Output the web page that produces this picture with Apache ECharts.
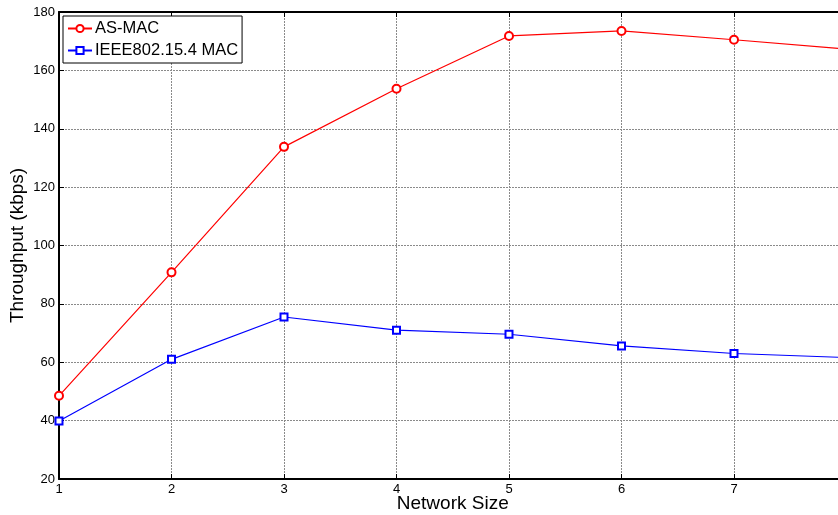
<!DOCTYPE html>
<html><head><meta charset="utf-8">
<script src="https://cdn.jsdelivr.net/npm/echarts@6/dist/echarts.min.js"></script>
<style>html,body{margin:0;padding:0;background:#fff}#c{width:838px;height:515px}</style>
</head><body><div id="c"></div>
<script>
const networkSize = [1, 2, 3, 4, 5, 6, 7, 8];
const asMac = [48.5, 90.8, 133.8, 153.7, 171.8, 173.5, 170.5, 167.3];
const ieeeMac = [39.9, 61.0, 75.5, 71.0, 69.6, 65.6, 63.0, 61.6];
const yTicks = [20, 40, 60, 80, 100, 120, 140, 160, 180];

const chart = echarts.init(document.getElementById('c'), null, {renderer: 'canvas'});
const font = 'Liberation Sans, Arial, Helvetica, sans-serif';
const gridLine = {show: true, lineStyle: {color: '#8a8a8a', type: [2, 1], width: 1}};
chart.setOption({
  animation: false,
  backgroundColor: '#fff',
  textStyle: {fontFamily: font},
  grid: {left: 59, top: 12, width: 787.5, height: 467, containLabel: false, outerBoundsMode: 'none'},
  legend: {
    left: 63, top: 16, orient: 'vertical',
    backgroundColor: '#fff', borderColor: '#000', borderWidth: 1,
    padding: [4, 4, 4, 4], itemGap: 5, itemWidth: 24, itemHeight: 9,
    textStyle: {fontSize: 16.5, color: '#000', fontFamily: font, padding: [0, 0, 0, -2]},
    data: ['AS-MAC', 'IEEE802.15.4 MAC']
  },
  xAxis: [{
    type: 'value', min: 1, max: 8, interval: 1,
    name: 'Network Size', nameLocation: 'middle', nameGap: 15, nameMoveOverlap: false,
    nameTextStyle: {fontSize: 19, color: '#000', fontFamily: font},
    axisLine: {show: true, onZero: false, lineStyle: {color: '#000', width: 2}},
    axisTick: {show: true, inside: true, length: 5, lineStyle: {color: '#000'}},
    axisLabel: {fontSize: 13, color: '#000', margin: 4, fontFamily: font},
    splitLine: gridLine
  }, {
    type: 'value', min: 1, max: 8, interval: 1, position: 'top',
    axisLine: {show: true, lineStyle: {color: '#000', width: 2}},
    axisTick: {show: true, inside: true, length: 5, lineStyle: {color: '#000'}},
    axisLabel: {show: false}, splitLine: {show: false}
  }],
  yAxis: [{
    type: 'value', min: 20, max: 180, interval: 20,
    name: 'Throughput (kbps)', nameLocation: 'middle', nameGap: 32, nameMoveOverlap: false,
    nameTextStyle: {fontSize: 19, color: '#000', fontFamily: font},
    axisLine: {show: true, onZero: false, lineStyle: {color: '#000', width: 2}},
    axisTick: {show: true, inside: true, length: 5, lineStyle: {color: '#000'}},
    axisLabel: {fontSize: 13, color: '#000', margin: 4, fontFamily: font,
      formatter: v => yTicks.includes(v) ? String(v) : ''},
    splitLine: gridLine
  }],
  series: [{
    name: 'AS-MAC', type: 'line', xAxisIndex: 0,
    data: networkSize.map((x, i) => [x, asMac[i]]),
    symbol: 'emptyCircle', symbolSize: 8,
    lineStyle: {color: '#ff0000', width: 1.2},
    itemStyle: {color: '#ff0000', borderWidth: 1}
  }, {
    name: 'IEEE802.15.4 MAC', type: 'line', xAxisIndex: 0,
    data: networkSize.map((x, i) => [x, ieeeMac[i]]),
    symbol: 'emptyRect', symbolSize: 7,
    lineStyle: {color: '#0000ff', width: 1.2},
    itemStyle: {color: '#0000ff', borderWidth: 1}
  }]
});
</script></body></html>
